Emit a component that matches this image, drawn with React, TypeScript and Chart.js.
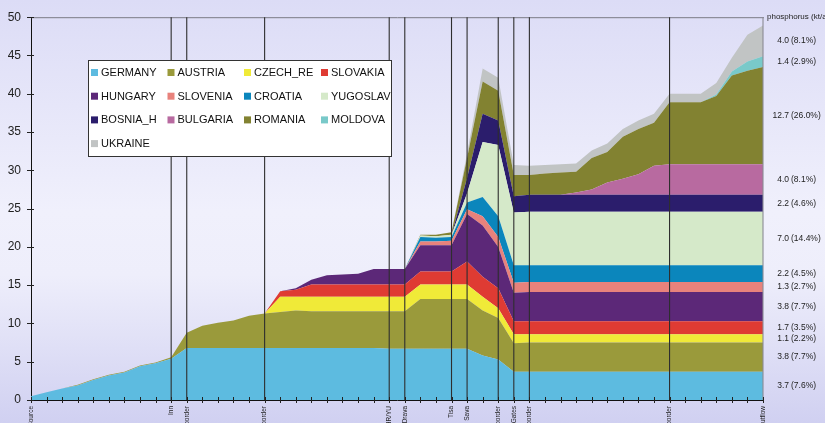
import React, { useEffect, useRef } from 'react';
import { Chart, registerables } from 'chart.js';

Chart.register(...registerables);

const FONT = "'Liberation Sans', Arial, sans-serif";

// Stations along the river (x categories); empty strings are unlabeled points
const categories = [
  'Source', '', '', '', '', '', '', '', '', 'Inn',
  'border', '', '', '', '', 'border', '', '', '', '',
  '', '', '', 'HR/YU', 'Drava', '', '', 'Tisa', 'Sava', '',
  'border', 'Gates', 'border', '', '', '', '', '', '', '',
  '', 'border', '', '', '', '', '', 'outflow',
];

const germany = [
  0.5, 1.0, 1.5, 1.9, 2.6, 3.2, 3.6, 4.4, 4.8, 5.4,
  6.8, 6.8, 6.8, 6.8, 6.8, 6.8, 6.8, 6.8, 6.8, 6.8,
  6.8, 6.8, 6.8, 6.7, 6.7, 6.7, 6.7, 6.7, 6.7, 5.8,
  5.3, 3.7, 3.7, 3.7, 3.7, 3.7, 3.7, 3.7, 3.7, 3.7,
  3.7, 3.7, 3.7, 3.7, 3.7, 3.7, 3.7, 3.7,
];
const austria = [
  0, 0, 0, 0.1, 0.1, 0.1, 0.1, 0.1, 0.1, 0.2,
  2.0, 2.9, 3.3, 3.6, 4.2, 4.5, 4.7, 4.9, 4.8, 4.8,
  4.8, 4.8, 4.8, 4.9, 4.9, 6.5, 6.5, 6.5, 6.5, 5.9,
  5.4, 3.7, 3.8, 3.8, 3.8, 3.8, 3.8, 3.8, 3.8, 3.8,
  3.8, 3.8, 3.8, 3.8, 3.8, 3.8, 3.8, 3.8,
];
const czech = [
  0, 0, 0, 0, 0, 0, 0, 0, 0, 0,
  0, 0, 0, 0, 0, 0, 2.0, 1.8, 1.9, 1.9,
  1.9, 1.9, 1.9, 1.9, 1.9, 1.9, 1.9, 1.9, 1.9, 1.8,
  1.3, 1.2, 1.1, 1.1, 1.1, 1.1, 1.1, 1.1, 1.1, 1.1,
  1.1, 1.1, 1.1, 1.1, 1.1, 1.1, 1.1, 1.1,
];
const slovakia = [
  0, 0, 0, 0, 0, 0, 0, 0, 0, 0,
  0, 0, 0, 0, 0, 0, 0.7, 0.9, 1.6, 1.6,
  1.6, 1.6, 1.6, 1.6, 1.6, 1.7, 1.7, 1.7, 3.0, 2.6,
  2.6, 1.7, 1.7, 1.7, 1.7, 1.7, 1.7, 1.7, 1.7, 1.7,
  1.7, 1.7, 1.7, 1.7, 1.7, 1.7, 1.7, 1.7,
];
const hungary = [
  0, 0, 0, 0, 0, 0, 0, 0, 0, 0,
  0, 0, 0, 0, 0, 0, 0, 0.2, 0.6, 1.2,
  1.3, 1.4, 2.0, 2.0, 2.0, 3.4, 3.4, 3.4, 6.2, 6.7,
  5.4, 3.7, 3.8, 3.8, 3.8, 3.8, 3.8, 3.8, 3.8, 3.8,
  3.8, 3.8, 3.8, 3.8, 3.8, 3.8, 3.8, 3.8,
];
const slovenia = [
  0, 0, 0, 0, 0, 0, 0, 0, 0, 0,
  0, 0, 0, 0, 0, 0, 0, 0, 0, 0,
  0, 0, 0, 0, 0, 0.5, 0.5, 0.6, 0.6, 1.2,
  1.3, 1.3, 1.3, 1.3, 1.3, 1.3, 1.3, 1.3, 1.3, 1.3,
  1.3, 1.3, 1.3, 1.3, 1.3, 1.3, 1.3, 1.3,
];
const croatia = [
  0, 0, 0, 0, 0, 0, 0, 0, 0, 0,
  0, 0, 0, 0, 0, 0, 0, 0, 0, 0,
  0, 0, 0, 0, 0, 0.6, 0.5, 0.5, 0.9, 2.5,
  2.7, 2.3, 2.2, 2.2, 2.2, 2.2, 2.2, 2.2, 2.2, 2.2,
  2.2, 2.2, 2.2, 2.2, 2.2, 2.2, 2.2, 2.2,
];
const yugoslav = [
  0, 0, 0, 0, 0, 0, 0, 0, 0, 0,
  0, 0, 0, 0, 0, 0, 0, 0, 0, 0,
  0, 0, 0, 0, 0, 0.2, 0.2, 0.3, 1.2, 7.2,
  9.3, 6.9, 7.0, 7.0, 7.0, 7.0, 7.0, 7.0, 7.0, 7.0,
  7.0, 7.0, 7.0, 7.0, 7.0, 7.0, 7.0, 7.0,
];
const bosnia = [
  0, 0, 0, 0, 0, 0, 0, 0, 0, 0,
  0, 0, 0, 0, 0, 0, 0, 0, 0, 0,
  0, 0, 0, 0, 0, 0, 0, 0, 2.0, 3.7,
  3.2, 2.1, 2.2, 2.2, 2.2, 2.2, 2.2, 2.2, 2.2, 2.2,
  2.2, 2.2, 2.2, 2.2, 2.2, 2.2, 2.2, 2.2,
];
const bulgaria = [
  0, 0, 0, 0, 0, 0, 0, 0, 0, 0,
  0, 0, 0, 0, 0, 0, 0, 0, 0, 0,
  0, 0, 0, 0, 0, 0, 0, 0, 0, 0,
  0, 0, 0, 0, 0, 0.3, 0.7, 1.6, 2.1, 2.7,
  3.8, 4.0, 4.0, 4.0, 4.0, 4.0, 4.0, 4.0,
];
const romania = [
  0, 0, 0, 0, 0, 0, 0, 0, 0, 0,
  0, 0, 0, 0, 0, 0, 0, 0, 0, 0,
  0, 0, 0, 0, 0, 0.1, 0.2, 0.3, 2.6, 4.2,
  3.9, 2.8, 2.6, 2.8, 2.9, 2.7, 4.1, 4.0, 5.5, 5.9,
  5.6, 8.1, 8.1, 8.1, 8.9, 11.6, 12.2, 12.7,
];
const moldova = [
  0, 0, 0, 0, 0, 0, 0, 0, 0, 0,
  0, 0, 0, 0, 0, 0, 0, 0, 0, 0,
  0, 0, 0, 0, 0, 0, 0, 0, 0, 0,
  0, 0, 0, 0, 0, 0, 0, 0, 0, 0,
  0, 0, 0, 0, 0.2, 0.5, 1.2, 1.4,
];
const ukraine = [
  0, 0, 0, 0, 0, 0, 0, 0, 0, 0,
  0, 0, 0, 0, 0, 0, 0, 0, 0, 0,
  0, 0, 0, 0, 0, 0, 0, 0, 0.6, 1.7,
  1.7, 1.3, 1.2, 1.1, 1.1, 1.1, 1.0, 1.1, 1.0, 1.1,
  1.2, 1.1, 1.1, 1.1, 1.5, 1.8, 3.5, 4.0,
];

const seriesNames = [
  'GERMANY', 'AUSTRIA', 'CZECH_RE', 'SLOVAKIA',
  'HUNGARY', 'SLOVENIA', 'CROATIA', 'YUGOSLAV',
  'BOSNIA_H', 'BULGARIA', 'ROMANIA', 'MOLDOVA',
  'UKRAINE',
];
const seriesValues = [
  germany, austria, czech, slovakia, hungary, slovenia, croatia,
  yugoslav, bosnia, bulgaria, romania, moldova, ukraine,
];
const seriesColors = [
  '#5dbbe0', '#9a9a3b', '#f0ea38', '#df3b33',
  '#5c2878', '#e8827c', '#0b86bc', '#d5e9c9',
  '#2b1d6c', '#b86aa0', '#828231', '#79c9c9',
  '#c1c4c4',
];
// outflow shares as printed on the right
const shareLabels = [
  '7.6', '7.7', '2.2', '3.5', '7.7', '2.7', '4.5', '14.4',
  '4.6', '8.1', '26.0', '2.9', '8.1',
];
const unitLabel = 'phosphorus (kt/a)';
const yMin = 0;
const yMax = 50;
const yStep = 5;

const bgPlugin = {
  id: 'bgGradient',
  beforeDraw(chart: any) {
    const { ctx, width, height } = chart;
    ctx.save();
    const g = ctx.createLinearGradient(0, 0, 0, height);
    g.addColorStop(0, '#dcdcf6');
    g.addColorStop(0.5, '#f0f0fc');
    g.addColorStop(0.65, '#eeeefb');
    g.addColorStop(1, '#d0d0f1');
    ctx.fillStyle = g;
    ctx.fillRect(0, 0, width, height);
    ctx.restore();
  },
};

const linesPlugin = {
  id: 'stationLines',
  afterDatasetsDraw(chart: any) {
    const { ctx, chartArea, scales } = chart;
    const xs = scales.x;
    const ys = scales.y;
    ctx.save();
    // top frame
    ctx.strokeStyle = '#7a7a84';
    ctx.lineWidth = 1;
    ctx.beginPath();
    ctx.moveTo(chartArea.left, chartArea.top + 0.5);
    ctx.lineTo(chartArea.right + 1, chartArea.top + 0.5);
    ctx.stroke();
    // station lines
    categories.forEach((lab, i) => {
      if (!lab || i === 0) return;
      const x = xs.getPixelForValue(i);
      ctx.strokeStyle = i === categories.length - 1 ? '#8a8a94' : '#2e2e2e';
      ctx.lineWidth = 1.1;
      ctx.beginPath();
      ctx.moveTo(x, chartArea.top);
      ctx.lineTo(x, chartArea.bottom);
      ctx.stroke();
    });
    // tick marks crossing the axes
    ctx.strokeStyle = '#222';
    ctx.lineWidth = 1;
    categories.forEach((_, i) => {
      const x = Math.round(xs.getPixelForValue(i)) + 0.5;
      ctx.beginPath();
      ctx.moveTo(x, chartArea.bottom - 3);
      ctx.lineTo(x, chartArea.bottom + 3);
      ctx.stroke();
    });
    for (let v = yMin; v <= yMax; v += yStep) {
      const y = Math.round(ys.getPixelForValue(v)) + 0.5;
      ctx.beginPath();
      ctx.moveTo(chartArea.left - 4, y);
      ctx.lineTo(chartArea.left + 3, y);
      ctx.stroke();
    }
    ctx.restore();
  },
};

const annotatePlugin = {
  id: 'annotate',
  afterDraw(chart: any) {
    const { ctx, chartArea, scales } = chart;
    const ys = scales.y;
    const ds = chart.data.datasets;
    const last = categories.length - 1;
    ctx.save();
    // unit header
    ctx.fillStyle = '#222';
    ctx.font = `8px ${FONT}`;
    ctx.textBaseline = 'middle';
    ctx.textAlign = 'left';
    ctx.fillText(unitLabel, chartArea.right + 4, chartArea.top - 0.5);
    // value labels at outflow
    ctx.font = `8.5px ${FONT}`;
    let base = 0;
    ds.forEach((d: any, i: number) => {
      const v = d.data[last];
      const mid = ys.getPixelForValue(base + v / 2);
      base += v;
      ctx.textAlign = 'right';
      ctx.fillText(v.toFixed(1), chartArea.right + 26, mid);
      ctx.textAlign = 'left';
      ctx.fillText(`(${shareLabels[i]}%)`, chartArea.right + 28, mid);
    });
    // legend box
    const bx = 88, by = 60, bw = 304, bh = 97;
    ctx.fillStyle = '#ffffff';
    ctx.fillRect(bx, by, bw, bh);
    ctx.strokeStyle = '#333';
    ctx.lineWidth = 1;
    ctx.strokeRect(bx + 0.5, by + 0.5, bw - 1, bh - 1);
    const colX = [91, 167.5, 244, 321];
    ctx.font = `11px ${FONT}`;
    ctx.textAlign = 'left';
    ctx.textBaseline = 'middle';
    ds.forEach((d: any, i: number) => {
      const c = i % 4;
      const r = Math.floor(i / 4);
      const cy = 72.5 + r * 23.7;
      ctx.fillStyle = d.backgroundColor;
      ctx.fillRect(colX[c], cy - 3.5, 7, 7);
      ctx.fillStyle = '#111';
      ctx.fillText(d.label, colX[c] + 10, cy + 0.5);
    });
    ctx.restore();
  },
};

export default function App() {
  const ref = useRef<HTMLCanvasElement>(null);
  useEffect(() => {
    const datasets = seriesValues.map((vals, i) => ({
      label: seriesNames[i],
      data: vals,
      backgroundColor: seriesColors[i],
      borderColor: seriesColors[i],
      borderWidth: 0,
      pointRadius: 0,
      pointHoverRadius: 0,
      tension: 0,
      fill: i === 0 ? 'origin' : '-1',
    }));
    const chart = new Chart(ref.current as HTMLCanvasElement, {
      type: 'line',
      data: { labels: categories, datasets },
      options: {
        animation: false,
        responsive: false,
        events: [],
        layout: { padding: { top: 12, right: 62, left: 0, bottom: 0 } },
        plugins: { legend: { display: false }, tooltip: { enabled: false } },
        scales: {
          x: {
            type: 'category',
            offset: false,
            z: 1,
            grid: { display: false, drawTicks: false },
            border: { display: true, color: '#111', width: 1 },
            ticks: {
              autoSkip: false,
              maxRotation: 90,
              minRotation: 90,
              padding: 6,
              color: '#222',
              font: { size: 6.5, family: FONT },
            },
            afterFit: (s: any) => { s.height = 23; },
          },
          y: {
            stacked: true,
            min: yMin,
            max: yMax,
            z: 1,
            grid: { display: false, drawTicks: false },
            border: { display: true, color: '#111', width: 1 },
            ticks: {
              stepSize: yStep,
              padding: 10,
              color: '#222',
              font: { size: 12, family: FONT },
            },
            afterFit: (s: any) => { s.width = 31; },
          },
        },
      } as any,
      plugins: [bgPlugin, linesPlugin, annotatePlugin],
    });
    return () => chart.destroy();
  }, []);
  return (
    <div style={{ position: 'absolute', left: 0, top: 0, width: 825, height: 423 }}>
      <canvas ref={ref} width={825} height={423} style={{ display: 'block', width: 825, height: 423 }} />
    </div>
  );
}
